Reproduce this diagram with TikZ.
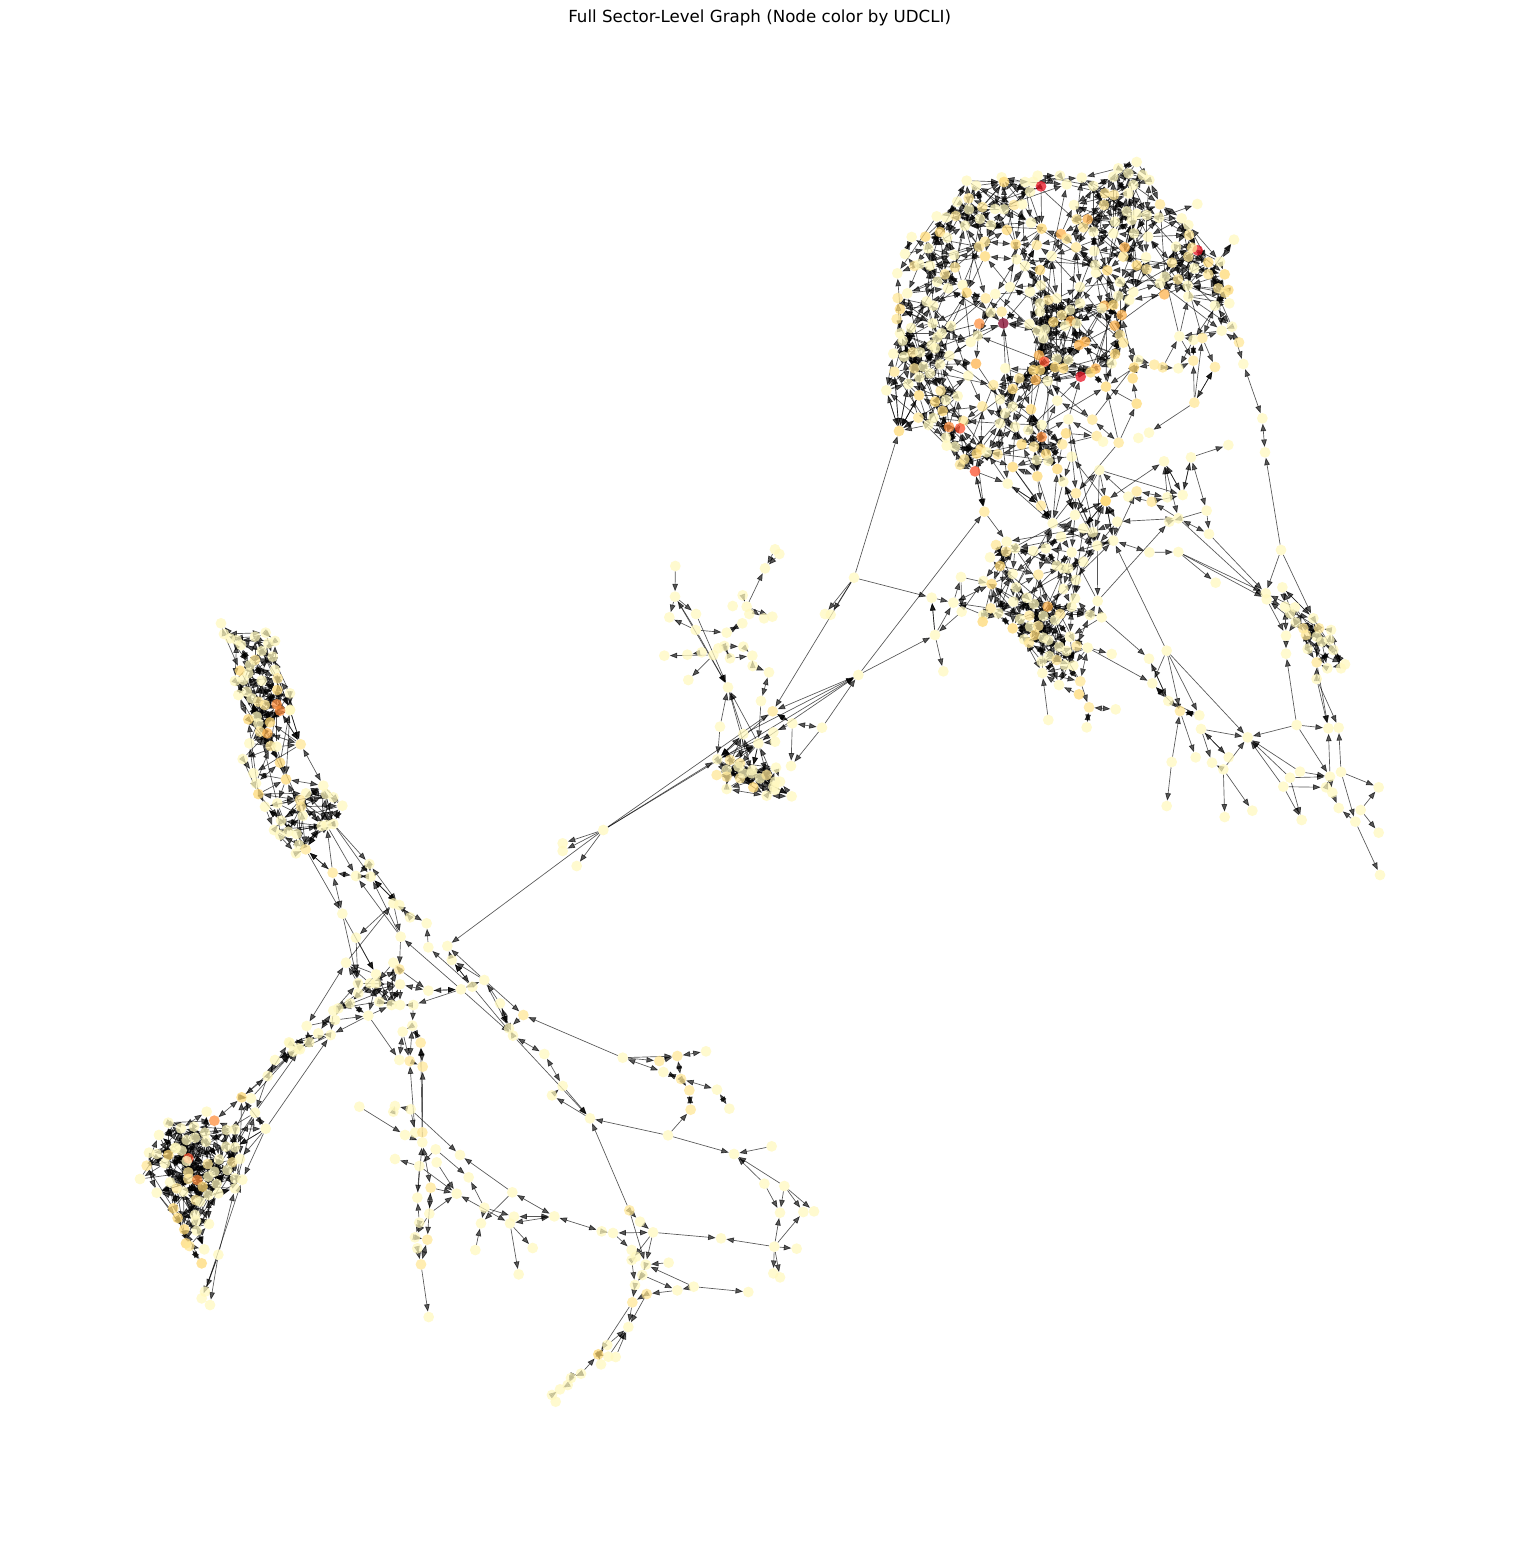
\documentclass[tikz,border=0pt]{standalone}
\usepackage{fontspec}
\setmainfont{DejaVu Sans}
\usetikzlibrary{arrows.meta}
\pgfdeclarelayer{bg}
\pgfsetlayers{bg,main}
\definecolor{ca}{HTML}{FFF8BE}
\definecolor{cb}{HTML}{FFE796}
\definecolor{cc}{HTML}{FED976}
\definecolor{cd}{HTML}{FEB24C}
\definecolor{ce}{HTML}{FD8D3C}
\definecolor{cf}{HTML}{FC4E2A}
\definecolor{cg}{HTML}{E81020}
\definecolor{ci}{HTML}{800026}
\tikzset{
 dot/.style={circle,inner sep=0pt,outer sep=0pt,minimum size=8.1pt,fill opacity=.74},
 edge/.style={line width=.5pt,black,opacity=.66,>={Triangle[length=5.6pt,width=4.2pt]}},
 titletext/.style={inner sep=0pt,font=\fontsize{12.5pt}{15pt}\selectfont}
}
\newcount\nc \nc=0
\newcount\ii \newcount\jj \newcount\dd \newcount\rr \newcount\ss \newcount\tmpc
\newcommand\regnode[3]{%
 \edef\Xv{\number\numexpr3*#2+\xx\relax}\edef\Yv{\number\numexpr3*#3+\yy\relax}%
 \expandafter\xdef\csname px\the\nc\endcsname{\Xv}%
 \expandafter\xdef\csname py\the\nc\endcsname{\Yv}%
 \expandafter\xdef\csname pn\the\nc\endcsname{#1}%
 \node[dot,fill=c\cc] (#1) at (\Xv,\Yv) {};}
\newcommand\AN[3]{\foreach \xx/\yy/\cc in {#3}{\global\advance\nc by 1 \edef\tmpn{n\the\nc}\regnode{\tmpn}{#1}{#2}}}
\newcommand\NA[3]{\foreach \nm/\xx/\yy/\cc in {#3}{\global\advance\nc by 1 \regnode{\nm}{#1}{#2}}}
\newcommand\NS[3]{\foreach \nm/\xx/\yy/\cc in {#3}{\edef\Xv{\number\numexpr3*#1+\xx\relax}\edef\Yv{\number\numexpr3*#2+\yy\relax}\node[dot,fill=c\cc] (\nm) at (\Xv,\Yv) {};}}
\newcommand\Ed[1]{\foreach \aa/\bb in {#1}{\draw[edge,->] (\aa) -- (\bb);}}
\newcommand\Bd[1]{\foreach \aa/\bb in {#1}{\draw[edge,<->] (\aa) -- (\bb);}}
\def\autotest{%
 \edef\dxv{\number\numexpr\csname px\the\ii\endcsname-\csname px\the\jj\endcsname\relax}%
 \edef\dyv{\number\numexpr\csname py\the\ii\endcsname-\csname py\the\jj\endcsname\relax}%
 \dd=\numexpr\dxv*\dxv+\dyv*\dyv\relax
 \ifnum\dd<60000
 \ifnum\dd>900
  \rr=\numexpr\ii*7919+\jj*104729\relax
  \tmpc=\rr \divide\tmpc by 97 \multiply\tmpc by 97 \advance\rr by -\tmpc
  \tmpc=0
  \ifnum\dd<16900 \ifnum\rr<34 \tmpc=1 \fi\else\ifnum\rr<3 \tmpc=1 \fi\fi
  \ifnum\tmpc=1
   \ss=\rr \tmpc=\rr \divide\tmpc by 3 \multiply\tmpc by 3 \advance\ss by -\tmpc
   \edef\ea{\csname pn\the\ii\endcsname}\edef\eb{\csname pn\the\jj\endcsname}%
   \ifcase\ss \draw[edge,<->] (\ea) -- (\eb);\or \draw[edge,->] (\ea) -- (\eb);\or \draw[edge,<-] (\ea) -- (\eb);\fi
  \fi
 \fi\fi}
\def\autoinner{\ifnum\jj>\nc\else\autotest\advance\jj by 1 \expandafter\autoinner\fi}
\def\autoouter{\ifnum\ii<\nc \jj=\ii \advance\jj by 1 \autoinner\advance\ii by 1 \expandafter\autoouter\fi}
\begin{document}
\begin{tikzpicture}[x=.25pt,y=-.25pt]
\useasboundingbox (0,0) rectangle (4560,4626);
\node[titletext] (title) at (2279,54) {Full Sector-Level Graph (Node color by UDCLI)};
% ---- upper cluster
\AN{860}{140}{830/66/a,775/85/a,805/100/a,848/105/a,868/120/a,760/110/a,665/113/a,600/107/a,533/107/a,425/112/a,320/122/a,432/126/c,495/126/a,520/125/a,543/139/g,620/133/a,348/137/a,700/138/a,820/135/a,510/155/a,805/160/a,735/160/b,762/165/b,326/175/b,292/185/a,732/195/b,642/195/a,900/193/b,1012/192/a,367/201/b,327/208/a,405/207/a,432/208/a,462/195/b,487/193/a,230/229/a,258/232/a,287/228/b,800/214/a,830/222/a,860/225/a,897/233/a,965/235/a,985/255/a,650/238/b,683/238/d,513/248/a,360/237/a,315/257/a,393/255/a,545/266/c,441/270/c,670/262/b,765/245/a,815/240/a,240/276/c,155/291/a,196/290/c,262/293/a,603/282/d,700/275/a,760/280/a,822/280/a,864/290/a,987/285/b,1122/299/a,620/296/b,375/305/b,357/320/b,467/313/c,530/315/b,794/322/d,1013/331/g,996/323/b,948/320/a,205/325/a,648/322/b,703/333/a,135/342/a,283/345/a,375/349/c,575/348/a,470/358/a,790/350/b,858/352/a,985/350/b,1045/367/c,1080/365/a,163/378/b,210/377/a,178/373/a,830/376/c,936/368/b,705/375/a,495/378/a,1003/385/a,112/400/a,285/382/b,540/390/c,708/398/a,860/388/b,954/418/b,1045/403/b,1094/403/c,255/403/b,915/410/a,780/426/a,232/425/a,308/435/a,660/441/a,450/441/a,543/436/a,510/455/a,983/437/a,900/430/a,264/445/a,1075/445/b,1105/450/c,142/460/a,113/474/b,320/458/c,406/462/a,377/475/b,913/463/d,775/468/a,820/456/a,1095/458/b,985/470/a,590/475/a,565/480/b,540/490/a,200/484/a,220/497/a,120/507/c,660/490/a,733/497/d,760/495/c,808/480/a,1065/497/a,1108/490/a,392/517/a,425/515/b,630/510/a,540/515/a,605/525/b,725/505/a,785/525/d,110/537/b,218/550/a,358/551/e,273/558/a,508/552/a,580/546/c,632/543/d,650/550/a,615/557/a,764/557/d,1085/572/a,1116/560/a,153/564/a,120/580/a,245/580/a,533/572/a,555/568/a,958/589/a,353/587/a,780/585/b,1137/607/b,128/602/a,232/592/a,332/606/a,550/595/a,790/608/b,215/615/a,675/605/d,657/615/d,225/625/a,100/641/a,132/650/a,158/637/b,180/637/a,268/647/a,537/646/d,765/642/c,835/660/a,590/656/a,625/660/a,553/665/f,755/670/a,163/685/b,190/680/a,240/673/a,348/671/d,883/674/b,908/682/b,955/685/a,822/683/c,585/682/c,610/685/c,520/690/c,540/690/c,707/686/d,692/697/c,210/700/a,325/707/a,178/712/a,818/715/c,478/715/b,527/720/d,563/723/a,400/735/b,458/747/c,242/752/b,293/768/a,258/780/a,225/785/c,420/778/a,592/782/a,367/799/b,458/800/a,513/808/c,248/813/c,435/820/a,220/834/a,310/843/b,697/839/b,420/850/a,545/855/a,267/861/e,300/865/f,465/860/a,505/870/a,710/888/b,618/880/c,545/891/e,835/894/a,258/893/a,729/905/a,485/913/c,607/913/b,522/920/b,285/920/a,260/917/a,362/927/c,350/941/c,380/937/a,413/943/b,558/942/c,635/950/a,530/960/a,565/962/a,300/974/b,313/958/b,592/987/c,830/1054/b,805/1070/a,737/1082/c,875/1085/b,922/1072/a}
\NA{860}{140}{X5/443/1031/a,X6/458/981/c,X7/532/1009/c,X8/610/1025/a,X9/718/990/a,X10/648/1060/b,X11/345/994/f,T7/117/873/c,T9/79/751/a,T10/103/695/b,T11/145/732/a,T12/177/766/c,T13/205/855/a,T14/175/833/b,T8/1150/672/a,V1/1003/788/b,V2/1000/662/b,V3/1065/681/b,V4/1027/594/b,V4b/1000/600/a,V5/867/878/a,V6/968/1065/a,H1/430/550/i,H2/436/685/a,H3/625/838/a,H4/662/710/g,H5/742/391/c,H6/738/740/c,H7/830/791/c,H8/776/908/b,T4/1105/915/a,T5/993/952/a,T6/912/964/a}
\NS{860}{140}{T2/1215/937/a,T3/1207/835/a}
% ---- lower part of upper cluster and right blob
\AN{900}{500}{617/3/c,550/85/a,578/97/a,483/110/a,320/125/a,288/135/b,345/145/a,400/153/a,437/145/a,318/155/b,270/172/a,515/157/a,550/185/a,300/198/c,470/197/a,505/205/a,490/205/a,338/222/a,415/224/b,250/243/a,275/252/c,528/240/a,348/262/a,490/267/a,380/293/a,525/295/a,340/305/a,402/312/a,443/320/d,515/320/a,1155/320/a,1185/322/a,272/325/b,185/335/a,250/345/a,295/340/a,570/345/a,388/347/b,430/348/a,480/342/b,465/360/a,248/365/c,360/357/a,1170/340/a,1187/367/a,1210/385/b,1257/385/b,1293/390/a,390/380/a,415/378/b,338/385/c,405/405/c,430/413/a,1218/405/b,1250/410/a,1288/420/a,1265/425/a,372/418/a,387/428/b,445/420/a,510/410/a,530/438/b,478/440/a,500/453/a,448/468/a,425/484/a,470/480/b,495/495/a,520/497/a}
\NA{900}{500}{X1/423/17/b,X2/525/45/a,X3/458/70/a,X4/592/137/a,R5/640/122/a,R6/593/303/a,R7/605/352/a,R48/1097/280/a,R49/1100/298/a,R51/1240/355/a,R50/1223/447/a,R42/1158/407/a,R44/1250/487/b,R45/1282/505/a,R46/1323/505/a,R47/1335/493/a,R52/1300/450/a,R73/1147/262/a,R54/563/443/a,R55/541/544/b,R60/477/555/a,R61/427/519/a,R66/160/308/a,R67/183/231/a,R64/105/405/a,R65/95/293/a,R68/920/32/a,R69/927/102/a,R70/835/55/a,R71/808/65/a,R72/652/65/a,R9b/253/35/b}
\NS{900}{500}{R1/1143/150/a,R3/835/156/a,R4/748/157/a,R2/947/248/a,R8/800/452/a,R9/747/476/a,R10/757/550/a,R11/805/603/a,R12/840/633/b,R13/898/646/a,R14/903/687/a,R15/1043/712/a,R16/1190/675/a,R17/1285/685/a,R18/1316/683/a,R19/986/772/a,R20/887/772/a,R21/936/788/a,R22/970/808/a,R23/815/786/a,R24/1200/815/a,R25/1323/816/a,R26/1170/833/a,R27/1290/830/a,R28/1150/860/a,R29/1278/862/a,R30/1297/878/a,R31/1436/862/a,R32/1316/924/a,R33/1382/930/a,R34/1366/965/a,R35/1436/998/a,R36/800/918/a,R37/974/951/a,R38/1057/932/a,R39/1205/960/a,R40/1440/1125/a,R41/1158/461/a,R43/1250/537/a,R53/635/462/a,R56/537/583/c,R57/567/622/b,R58/647/628/a,R59/560/682/a,R62/445/660/a,R63/130/514/a}
% ---- middle branch
\NS{540}{540}{F1/406/78/a,F2/405/170/a,F3/388/232/a,F4/468/222/a,F5/467/270/a,F6/560/278/a,F7/705/28/a,F8/718/42/a,F9/675/85/a,F10/608/166/a,F11/578/198/a,F12/620/200/a,F13/628/222/a,F14/672/235/a,F15/697/230/a,F16/607/250/a,F17/610/320/a,F18/553/318/a,F19/535/325/a,F20/485/337/a,F21/520/345/a,F22/442/344/a,F23/373/347/a,F24/570/355/a,F25/637/347/a,F26/638/378/a,F27/687/397/a,F28/445/420/a,F29/564/442/a,F30/663/483/a,F31/698/514/b,F32/540/560/a,F33/757/550/a,F34/846/563/a,F35/955/405/a,F37/700/577/a,F38/705/605/a,F41/753/678/a,F43/190/870/a,F44/68/910/a,F45/68/933/a,F46/110/978/a,F47/855/222/a,F48/872/224/a,F49/942/113/a}
\NA{540}{540}{F36/610/582/a,F39/655/610/a,F40/532/658/a,F42/708/683/a,B1/570/660/b,B2/600/670/b,B3/560/690/a,B4/595/680/a,B5/530/705/b,B6/560/710/b,B7/600/715/b,B8/637/690/a,B9/660/715/a,B10/680/705/b,B11/705/725/a,B12/720/725/a,B13/640/742/c,B14/560/747/a,B15/680/767/a,B16/705/750/a,B17/755/769/a,B18/635/700/a,B19/610/700/a,B20/700/740/a}
% ---- upper left chain
\AN{200}{610}{63/40/a,72/72/a,90/85/a,110/90/a,123/105/a,165/80/a,197/68/a,225/93/a,205/100/a,185/123/a,218/140/a,165/150/b,150/165/a,120/182/c,105/213/a,130/210/a,145/190/a,185/212/a,225/180/a,233/205/b,232/240/c,270/250/a,115/255/a,140/245/a,175/275/b,155/265/a,195/285/b,230/283/e,270/300/a,170/320/a,145/328/c,210/337/c,175/340/a,180/365/b,202/370/d,148/400/a,212/408/b,230/410/a,128/447/a,240/458/c,160/490/a,258/508/c,168/520/a,175/552/c,318/550/a,378/552/a,400/562/a,427/587/a,195/590/a,232/580/a,300/570/b,303/590/b,308/618/a,243/632/a,222/660/a,240/675/a,265/665/a,290/672/a,297/705/a,288/730/a,580/880/a,630/922/a,680/940/a}
\NA{200}{610}{U1/302/403/b,U2/370/527/a,U3/270/300/a,U4/380/645/a,U5/400/642/a,U6/508/762/a,U7/468/798/a,U8/512/800/a,U9/398/788/b,U10/427/911/a,U11/598/885/a,U12/602/980/a,U13/317/718/b,U14/365/648/a,U15/240/302/e,U16/468/983/a}
% ---- centre crossing
\AN{290}{940}{240/130/a,205/160/a,180/190/a,145/205/a,130/212/a,135/240/a,50/258/a,85/280/a,58/307/a,25/325/a,0/310/a,268/185/a,330/195/a,258/130/a}
\NA{290}{940}{Z1/472/18/a,Z2/415/22/a,Z3/583/120/a,Z4/547/140/a,Z5/513/148/a,Z6/415/152/a,Z7/330/133/a,Z8/328/88/b,Z9/310/68/a,Z10/204/130/a,Z11/168/68/a,Z12/235/227/a,Z13/700/225/b,Z14/657/265/a,Z15/630/190/a,Z16/370/195/a,Z17/305/195/a,Z21/258/103/a,Z22/122/285/a,Z23/485/60/a}
% ---- lower left cluster
\AN{120}{1000}{507/127/a,260/335/a,283/362/e,145/368/a,183/385/a,222/380/a,117/405/a,165/445/a,200/420/a,225/413/a,255/398/a,320/390/a,345/388/a,258/425/a,318/440/a,87/458/a,110/462/a,145/465/c,167/443/a,185/452/a,205/475/f,200/483/a,135/490/a,80/497/b,297/478/a,263/492/b,337/487/b,60/537/a,205/517/b,205/537/b,265/530/a,283/515/a,322/510/a,345/535/a,232/540/e,248/560/c,150/547/a,290/552/a,110/578/a,170/565/b,190/575/a,265/585/a,295/580/a,227/600/b,240/605/a,160/625/c,173/654/c,225/645/a,228/662/a,267/672/a,193/688/c,230/692/a,198/730/c,208/738/b,253/748/a,245/790/c}
\NA{120}{1000}{Q5/345/565/a,Q6/437/386/a,Q8/367/539/a,Q9/365/292/c,Q10/393/295/a,Q11/405/338/a,Q12/520/155/a,Q13/540/148/a,Q14/443/228/a,Q15/465/180/a,Q16/345/442/a,Q17/360/477/a}
\NS{120}{1000}{Q1/295/764/a,Q2/255/875/a,Q3/245/895/a,Q4/270/915/a,P1/718/320/a,P2/825/318/a,P3/820/335/a,P8/848/95/a,P9/877/77/a,P10/838/180/a,P11/825/477/a}
% ---- lower branches
\NS{400}{1030}{M1/62/38/b,M2/29/93/b,M3/68/110/b,M4/32/238/a,M5/15/315/a,M6/45/308/a,M7/67/307/b,M8/67/337/a,M9/107/358/a,M10/110/397/a,M11/58/408/a,M12/180/375/a,M13/206/442/a,M14/92/473/b,M15/52/503/a,M16/170/491/a,M17/337/487/a,M18/253/533/a,M19/88/551/a,M20/58/578/a,M21/243/580/a,M22/342/560/a,M23/330/580/a,M24/463/559/a,M25/45/622/a,M26/82/629/b,M27/52/655/a,M28/226/660/a,M29/398/654/a,M30/63/703/b,M31/356/733/a,M32/86/861/a,M33/339/17/a,M34/433/72/a,M35/488/168/a,M36/456/196/a,M37/570/265/a,M38/668/83/a,M39/778/93/b,M40/832/78/b,M41/918/64/a,M42/790/126/a,M43/843/147/b,M44/868/181/b,M45/951/179/a,M46/988/236/a,M47/872/239/b,M48/804/316/a,M49/1002/372/a,M50/1115/349/a,M51/1093/461/a,M52/1153/468/a,M53/1140/548/a,M54/1210/546/a,M55/1242/544/a,M56/1123/650/a,M57/1190/656/a,M58/1120/730/a,M59/1140/742/a,M60/963/625/a,M61/1045/786/a,M62/688/541/b,M63/720/575/a,M64/605/604/a,M65/639/609/a,M66/759/607/a,M67/695/660/a,M68/708/680/a,M69/695/690/a,M70/737/704/a,M71/806/698/a,M72/727/735/a,M73/705/765/a,M74/740/792/b,M75/832/781/a,M76/881/770/a,M77/697/817/b,M78/685/891/a,M79/622/945/a,M80/595/973/c,M81/625/980/a,M82/647/981/a,M83/603/1003/a,M84/543/1031/a,M85/513/1044/a,M86/503/1065/a,M87/480/1078/a,M88/456/1095/a,M89/467/1115/a}
\begin{pgfonlayer}{bg}
\ii=1 \autoouter
% bridge upper cluster to its lower part
\Ed{X11/R9b,H3/X10,H3/X4,X6/X1,X7/X1,X5/X1,X8/X3,X9/X4,X10/X4,X9/X2,X8/X2,X5/X3,X10/X2,X7/X3,X1/X3,X6/X3,X9/V6}
\Bd{X11/R9b,X8/X4,X1/X5}
% right branch
\Ed{R3/R2,R3/R48,R3/R49,R69/R48,R70/R49,R8/R10,R8/R12,R8/R13,R8/R15,R7/R9,R54/R10,R54/R53,R23/R12,R23/R36,R14/R15,R12/R20,R14/R21,R14/R19,R22/R37,R22/R38,R22/R15,R22/R21,R16/R15,R16/R17,R16/R27,R16/R41,R28/R15,R26/R15,R24/R15,R28/R39,R26/R39,R28/R29,R24/R27,R26/R27,R25/R31,R25/R18,R27/R17,R34/R40,R33/R31,R33/R35,R34/R32,R27/R30,R25/R34,R43/R17,R43/R18,R44/R17,R42/R41,R1/R48,R1/R51,R1/T2,R6/R71,R8/R5,R11/R9,R19/R14,R4/R3,R62/R61,R60/R61,R56/R60,R55/R57,R13/R12,R29/R27,R30/R32,R13/R11,R9/R11}
\Bd{R10/R12,R5/R4,R59/R57,R57/R58,R43/R44,T2/T3,T3/T8,R11/R10,R12/R13}
\Ed{R64/R63,R64/R65,R65/R66,R66/R67,R7/R6,R72/R5,R68/R69,R70/R71,R73/R51,T5/T4,V1/V2,V1/V3,V1/V4,V1/V5,T5/V6,T6/V6,V6/T5,H2/H1,H3/H4,H8/H6,H8/H7,H7/H6,H5/H6}
\Ed{T9/T7,T10/T7,T11/T7,T12/T7,T13/T7,T14/T7,T7/T10,T7/T11,T7/T12,T7/T14}
% middle branch
\Ed{F1/F2,F2/F3,F2/F4,F5/F3,F5/F2,F5/F6,F4/F29,F2/F29,F5/F29,F21/F23,F21/F28,F20/F22,F24/F18,F24/F25,F6/F16,F8/F9,F12/F9,F10/F12,F12/F14,F12/F15,F16/F6,F18/F17,F17/F25,F25/F26,F26/F27,F30/F39,F32/F29,F32/F40,F36/F29,F39/F29,F33/F41,F34/F41,F34/F35,F33/F31,F33/F37,F35/F31,F36/F40,F37/F40,F31/F40,F43/F31,F43/F44,F43/F45,F43/F46,F43/F35,F43/F40,F49/F31,F49/F47,F49/F48,F49/T7,F49/R65,F35/R64,F43/Z1,F39/B8,F36/F35,F39/F35,F38/F39,F37/F39,F39/B10,F29/B18}
\Bd{F27/F30,F33/F34,F18/F24,F31/F33,F39/F40}
\Ed{F35/R9b,F7/F9}
% chain
\Bd{U1/U2,U9/U10,U8/U11,U6/U11,U14/U13}
\Ed{U15/U1,U3/U1,U4/U7,U5/U6,U5/U8,U9/U13,U9/U4,U13/U10,U12/U7,U12/U8,U2/U5,U8/U7,U6/U8}
\Ed{Z10/Z11,U16/Z10,U10/Z21,U12/Z8,Z5/Z16,Z5/U12,Z12/Z22,Z12/P10,Z3/Z13,M38/Z13,Z3/Z23,Z4/Z23,Z4/M33,Z15/M33,Z14/M33,Z5/M33,Z13/Z14,Z3/Z14,Z3/Z1,Z4/Z2}
\Bd{Z7/Z6,Z6/Z5,Z14/Z15,Z9/Z8}
% lower-left cluster
\Ed{Q1/Q2,Q1/Q3,Q1/Q4,Q1/Q5,Q2/Q8,Q6/Z22,Q6/Q16,Q6/Q17,Q6/Q8,Q9/Q12,Q10/Q12,Q11/Q13,Q15/Q13,Q6/Q11,Q11/Q16}
\Bd{Q9/Q14,Q14/Q15,Q10/Q9}
% lower branches
\Bd{M33/M34,M34/M35,M38/M42,M40/M41,M40/M43,M42/M43,M43/M44,M43/M45,M45/M46,M44/M47,M17/M24,M23/M24,M22/M24,M24/M64,M23/M16,M1/M3,M8/M14,M14/M19,M26/M30,M27/M30,M25/M26,M20/M25,M62/M63,M65/M66,M72/M73,M73/M77,M74/M77,M80/M79,M84/M85,M86/M85,P8/P10,M2/P9,M1/P9}
\Ed{M33/M37,M36/M35,M37/M36,M35/M37,M48/M37,M48/M47,M48/M49,M50/M49,M51/M49,M52/M49,M51/M53,M52/M53,M52/M54,M52/M55,M56/M53,M56/M54,M56/M57,M56/M58,M56/M59,M56/M60,M66/M60,M62/M37,M38/M39,M38/M40,M39/M40,M17/M12,M17/M21,M18/M13,M18/M22,M18/M21,M28/M21,M23/M29,M23/M31,M4/M12,M9/M13,M10/M16,M14/M16,M19/M16,M11/M16,M7/M3,M6/M2,M30/M32,M8/M1,M15/M8,M14/M26,M19/M25,M20/M15,M63/M66,M64/M65,M65/M67,M62/M70,M66/M70,M66/M69,M68/M69,M70/M72,M69/M73,M72/M75,M71/M70,M76/M70,M76/M75,M75/M74,M76/M61,M74/M78,M77/M78,M79/M78,M81/M78,M82/M78,M77/M80,M84/M80,M83/M80,M81/M80,P1/M5,M4/P2,P2/P3,M11/P11,M5/M8,M9/M11,M11/M15,M4/M6,P9/P8,Z16/P9,P8/M2,M2/M3,M87/M86,M87/M88}
\end{pgfonlayer}
\end{tikzpicture}
\end{document}
